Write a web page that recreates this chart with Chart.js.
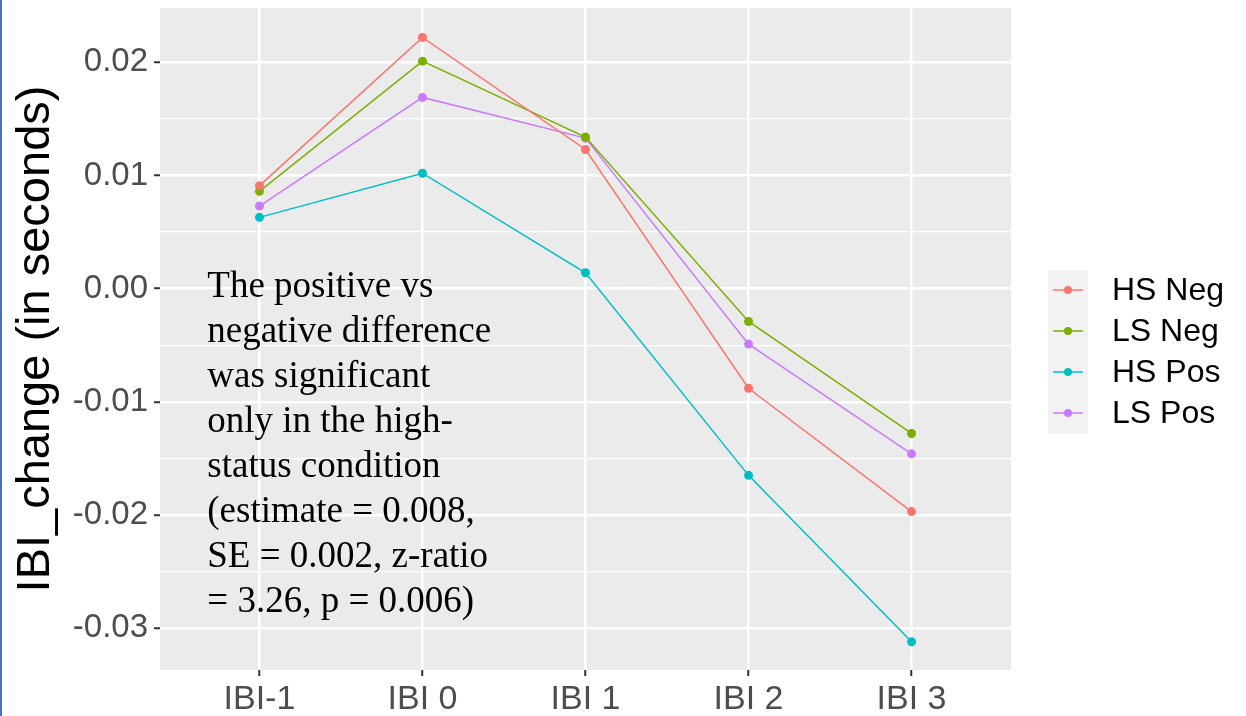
<!DOCTYPE html>
<html>
<head>
<meta charset="utf-8">
<script src="https://cdn.jsdelivr.net/npm/chart.js@4"></script>
<style>
  html, body { margin: 0; padding: 0; background: #ffffff; }
  #wrap { position: relative; width: 1246px; height: 716px; }
  #edge { position: absolute; left: 0; top: 0; width: 2px; height: 716px; background: #4472c4; }
</style>
</head>
<body>
<div id="wrap">
  <canvas id="ibiChart" width="1246" height="716"></canvas>
  <div id="edge"></div>
</div>
<script>
// data
var categories = ['IBI-1', 'IBI 0', 'IBI 1', 'IBI 2', 'IBI 3'];
var hsNeg = [0.0091, 0.0222, 0.0123, -0.0088, -0.0197];
var lsNeg = [0.0086, 0.0201, 0.0134, -0.0029, -0.0128];
var hsPos = [0.0063, 0.0102, 0.0014, -0.0165, -0.0312];
var lsPos = [0.0073, 0.0169, 0.0133, -0.0049, -0.0146];
var seriesNames = ['HS Neg', 'LS Neg', 'HS Pos', 'LS Pos'];
var seriesColors = ['#F8766D', '#7CAE00', '#00BFC4', '#C77CFF'];
var noteLines = [
    'The positive vs',
    'negative difference',
    'was significant',
    'only in the high-',
    'status condition',
    '(estimate = 0.008,',
    'SE = 0.002, z-ratio',
    '= 3.26, p = 0.006)'
];

var sansFont = "'Liberation Sans', Arial, sans-serif";

function toPoints(values) {
    return values.map(function (v, i) { return { x: i, y: v }; });
}

function isMajor(v) {
    return Math.abs(Math.round(v * 100) - v * 100) < 1e-6;
}

var allSeries = [hsNeg, lsNeg, hsPos, lsPos];
var datasets = allSeries.map(function (vals, i) {
    return {
        label: seriesNames[i],
        data: toPoints(vals),
        borderColor: seriesColors[i],
        backgroundColor: seriesColors[i],
        borderWidth: 1.5,
        pointRadius: 4.5,
        pointBorderWidth: 0,
        tension: 0
    };
});

// grey panel like ggplot
var panelBg = {
    id: 'panelBg',
    beforeDraw: function (chart) {
        var a = chart.chartArea;
        var ctx = chart.ctx;
        ctx.save();
        ctx.fillStyle = '#EBEBEB';
        ctx.fillRect(a.left, a.top, a.right - a.left, a.bottom - a.top);
        ctx.restore();
    }
};

// annotation text and legend
var extras = {
    id: 'extras',
    afterDraw: function (chart) {
        var ctx = chart.ctx;
        var xs = chart.scales.x;
        var ys = chart.scales.y;
        ctx.save();

        // note
        ctx.fillStyle = '#000000';
        ctx.font = "37px 'Liberation Serif', 'Times New Roman', serif";
        ctx.textAlign = 'left';
        ctx.textBaseline = 'alphabetic';
        var nx = xs.getPixelForValue(-0.32);
        var ny = ys.getPixelForValue(-0.00075);
        noteLines.forEach(function (line, i) {
            ctx.fillText(line, nx, ny + i * 45);
        });

        // legend
        var lx = 1048, ly = 270, rowH = 41;
        ctx.fillStyle = '#F2F2F2';
        ctx.fillRect(lx, ly, 40, rowH * chart.data.datasets.length);
        chart.data.datasets.forEach(function (ds, i) {
            var cy = ly + rowH * i + 20;
            ctx.strokeStyle = ds.borderColor;
            ctx.lineWidth = 1.5;
            ctx.beginPath();
            ctx.moveTo(lx + 5, cy);
            ctx.lineTo(lx + 35, cy);
            ctx.stroke();
            ctx.fillStyle = ds.borderColor;
            ctx.beginPath();
            ctx.arc(lx + 20, cy, 4, 0, Math.PI * 2);
            ctx.fill();
            ctx.fillStyle = '#000000';
            ctx.font = '32px ' + sansFont;
            ctx.textAlign = 'left';
            ctx.textBaseline = 'middle';
            ctx.fillText(ds.label, 1112, cy + 1);
        });
        ctx.restore();
    }
};

var ctx = document.getElementById('ibiChart').getContext('2d');
new Chart(ctx, {
    type: 'line',
    data: { datasets: datasets },
    plugins: [panelBg, extras],
    options: {
        responsive: false,
        animation: false,
        layout: { padding: { top: 8, right: 235, left: 0, bottom: 0 } },
        plugins: {
            legend: { display: false },
            tooltip: { enabled: false }
        },
        scales: {
            x: {
                type: 'linear',
                min: -0.61,
                max: 4.61,
                afterFit: function (scale) { scale.height = 46; },
                afterBuildTicks: function (scale) {
                    scale.ticks = categories.map(function (c, i) { return { value: i }; });
                },
                border: { display: false },
                grid: {
                    color: '#FFFFFF',
                    lineWidth: 2.5,
                    drawTicks: true,
                    tickLength: 6,
                    tickWidth: 2,
                    tickColor: '#333333'
                },
                ticks: {
                    color: '#4D4D4D',
                    font: { family: sansFont, size: 34 },
                    padding: 3,
                    maxRotation: 0,
                    callback: function (v) { return categories[v]; }
                }
            },
            y: {
                type: 'linear',
                min: -0.0337,
                max: 0.0248,
                afterFit: function (scale) { scale.width = 160; },
                afterBuildTicks: function (scale) {
                    var t = [];
                    for (var k = -6; k <= 4; k++) t.push({ value: k * 0.005 });
                    scale.ticks = t;
                },
                border: { display: false },
                grid: {
                    color: '#FFFFFF',
                    lineWidth: function (c) { return isMajor(c.tick.value) ? 2.5 : 1.2; },
                    tickLength: 6,
                    tickWidth: 2,
                    tickColor: function (c) { return isMajor(c.tick.value) ? '#333333' : 'rgba(0,0,0,0)'; }
                },
                ticks: {
                    color: '#4D4D4D',
                    font: { family: sansFont, size: 33, lineHeight: 0.01 },
                    padding: 6,
                    callback: function (v) {
                        if (!isMajor(v)) return '';
                        var s = (Math.round(v * 100) / 100).toFixed(2);
                        return s === '-0.00' ? '0.00' : s;
                    }
                },
                title: {
                    display: true,
                    text: 'IBI_change (in seconds)',
                    color: '#000000',
                    font: { family: sansFont, size: 47 },
                    padding: { top: 8, bottom: 0 }
                }
            }
        }
    }
});
</script>
</body>
</html>
